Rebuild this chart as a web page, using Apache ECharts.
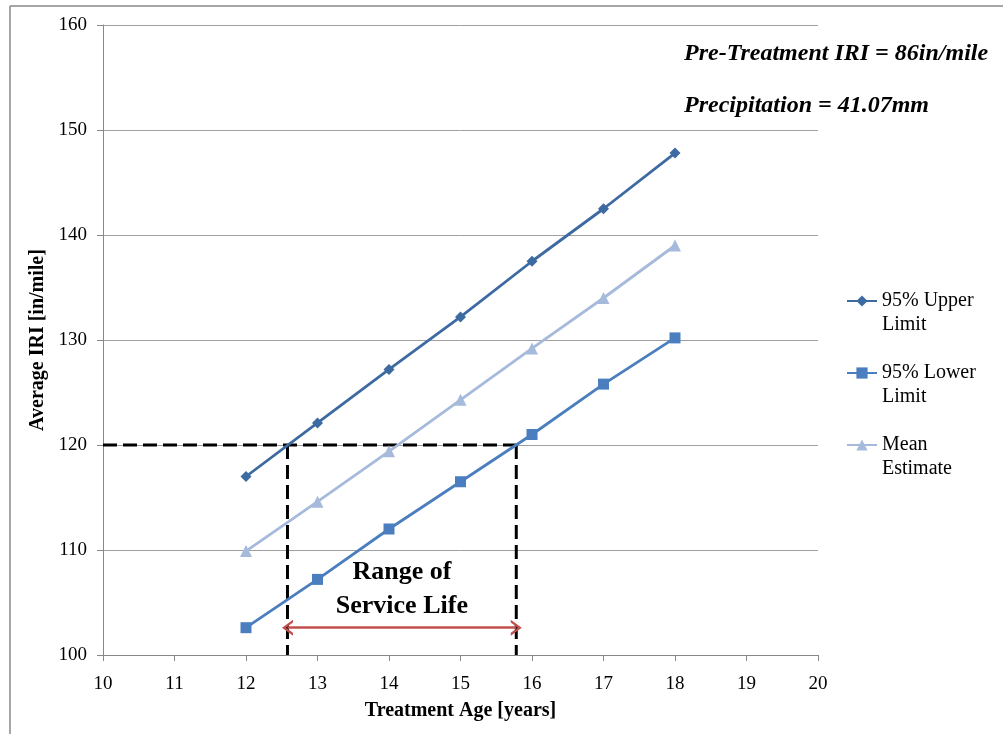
<!DOCTYPE html>
<html>
<head>
<meta charset="utf-8">
<script src="https://cdn.jsdelivr.net/npm/echarts@6/dist/echarts.min.js"></script>
<style>
  html, body { margin: 0; padding: 0; background: #fff; }
  #main { width: 1003px; height: 734px; }
</style>
</head>
<body>
<div id="main"></div>
<script>
// treatment age (years)
const ages = [12, 13, 14, 15, 16, 17, 18];
const upperLimit = [117.0, 122.1, 127.2, 132.2, 137.5, 142.5, 147.8];
const lowerLimit = [102.6, 107.2, 112.0, 116.5, 121.0, 125.8, 130.2];
const meanEstimate = [109.9, 114.6, 119.4, 124.3, 129.2, 134.0, 139.0];

// threshold and service life range
const thresholdIRI = 120;
const serviceLifeStart = 12.58;
const serviceLifeEnd = 15.78;
const arrowIRI = 102.6;

const fontFamily = '"Liberation Serif", "Times New Roman", serif';

const pair = (vals) => ages.map((a, i) => [a, vals[i]]);

const dashed = {
    color: '#000',
    width: 3,
    type: [14, 6]
};

const chevron = 'path://M0,10 L5,0 L10,10 L8.2,10 L5,3.6 L1.8,10 Z';

const chart = echarts.init(document.getElementById('main'));
const option = {
    backgroundColor: '#fff',
    animation: false,
    textStyle: { fontFamily: fontFamily },
    grid: {
        left: 103,
        right: 185,
        top: 25,
        bottom: 79
    },
    legend: {
        orient: 'vertical',
        left: 841,
        top: 260,
        itemWidth: 30,
        itemHeight: 14,
        itemGap: 0,
        formatter: (name) => '\n' + name,
        textStyle: {
            fontFamily: fontFamily,
            fontSize: 20,
            color: '#000',
            lineHeight: 24
        },
        data: ['95% Upper\nLimit', '95% Lower\nLimit', 'Mean\nEstimate']
    },
    xAxis: {
        type: 'value',
        min: 10,
        max: 20,
        interval: 1,
        name: 'Treatment Age [years]',
        nameLocation: 'middle',
        nameGap: 46,
        nameTextStyle: { fontFamily: fontFamily, fontSize: 20, fontWeight: 'bold', color: '#000' },
        axisLine: { lineStyle: { color: '#888', width: 1 } },
        axisTick: { show: true, length: 6, lineStyle: { color: '#888' } },
        axisLabel: { fontSize: 19, color: '#000', margin: 20, fontFamily: fontFamily },
        splitLine: { show: false }
    },
    yAxis: {
        type: 'value',
        min: 100,
        max: 160,
        interval: 10,
        name: 'Average IRI [in/mile]',
        nameLocation: 'middle',
        nameGap: 52,
        nameTextStyle: { fontFamily: fontFamily, fontSize: 20, fontWeight: 'bold', color: '#000' },
        axisLine: { show: true, lineStyle: { color: '#888', width: 1 } },
        axisTick: { show: true, length: 6, lineStyle: { color: '#888' } },
        axisLabel: { fontSize: 19, color: '#000', margin: 16, fontFamily: fontFamily },
        splitLine: { show: true, lineStyle: { color: '#a0a0a0', width: 1 } }
    },
    series: [
        {
            name: '95% Upper\nLimit',
            type: 'line',
            data: pair(upperLimit),
            symbol: 'diamond',
            symbolSize: 11,
            color: '#3D6AA1',
            lineStyle: { width: 2.8 },
            z: 5
        },
        {
            name: '95% Lower\nLimit',
            type: 'line',
            data: pair(lowerLimit),
            symbol: 'rect',
            symbolSize: 11,
            color: '#4A7EBF',
            lineStyle: { width: 2.8 },
            z: 5
        },
        {
            name: 'Mean\nEstimate',
            type: 'line',
            data: pair(meanEstimate),
            symbol: 'triangle',
            symbolSize: 12,
            color: '#A6BADB',
            lineStyle: { width: 2.8 },
            z: 5
        },
        {
            type: 'line',
            data: [[10, thresholdIRI], [serviceLifeEnd, thresholdIRI]],
            symbol: 'none',
            lineStyle: dashed,
            z: 4
        },
        {
            type: 'line',
            data: [[serviceLifeStart, thresholdIRI], [serviceLifeStart, 100]],
            symbol: 'none',
            lineStyle: dashed,
            z: 4
        },
        {
            type: 'line',
            data: [[serviceLifeEnd, thresholdIRI], [serviceLifeEnd, 100]],
            symbol: 'none',
            lineStyle: dashed,
            z: 4,
            markLine: {
                silent: true,
                symbol: [chevron, chevron],
                symbolSize: [16, 11],
                lineStyle: { color: '#C0504D', width: 2.5, type: 'solid' },
                itemStyle: { color: '#C0504D' },
                label: {
                    show: true,
                    position: 'insideMiddleTop',
                    distance: 4,
                    formatter: 'Range of\nService Life',
                    fontFamily: fontFamily,
                    fontSize: 26,
                    fontWeight: 'bold',
                    lineHeight: 34,
                    color: '#000'
                },
                data: [[
                    { coord: [serviceLifeStart, arrowIRI] },
                    { coord: [serviceLifeEnd, arrowIRI] }
                ]]
            }
        }
    ],
    graphic: [
        {
            type: 'line',
            shape: { x1: 10, y1: 6, x2: 1003, y2: 6 },
            style: { stroke: '#888', lineWidth: 1.5 }
        },
        {
            type: 'line',
            shape: { x1: 10, y1: 6, x2: 10, y2: 734 },
            style: { stroke: '#888', lineWidth: 1.5 }
        },
        {
            type: 'text',
            left: 684,
            top: 42,
            style: {
                text: 'Pre-Treatment IRI = 86in/mile',
                font: 'italic bold 24px ' + fontFamily,
                fill: '#000'
            }
        },
        {
            type: 'text',
            left: 684,
            top: 94,
            style: {
                text: 'Precipitation = 41.07mm',
                font: 'italic bold 24px ' + fontFamily,
                fill: '#000'
            }
        }
    ]
};
option && chart.setOption(option);
</script>
</body>
</html>
